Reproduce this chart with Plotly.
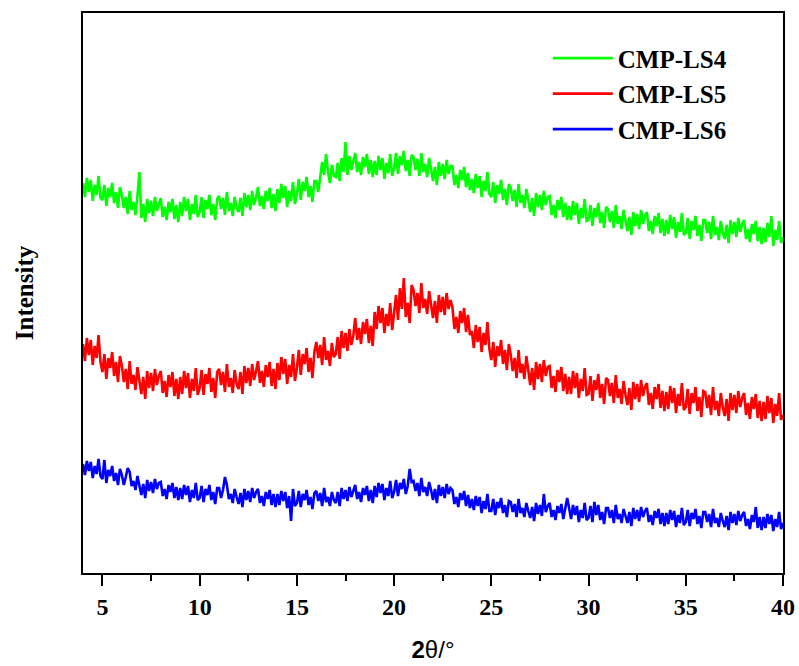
import plotly.graph_objects as go

# 2θ sampling grid (degrees), step 0.1
two_theta = [round(4 + 0.1 * i, 1) for i in range(361)]

# Intensities (arbitrary units, curves stacked as plotted)
cmp_ls4 = [
    390, 376, 395, 381, 393, 372, 388, 378, 397, 375,
    373, 388, 367, 385, 376, 390, 370, 381, 365, 386,
    378, 365, 376, 359, 382, 363, 371, 358, 377, 401,
    355, 369, 351, 374, 360, 372, 357, 376, 362, 370,
    375, 356, 366, 353, 371, 361, 374, 354, 368, 351,
    371, 357, 376, 362, 374, 353, 369, 359, 378, 356,
    361, 376, 355, 373, 364, 378, 358, 369, 353, 374,
    377, 364, 375, 358, 381, 362, 370, 357, 376, 365,
    361, 375, 357, 380, 366, 378, 363, 382, 368, 376,
    386, 367, 377, 364, 382, 372, 385, 365, 379, 362,
    384, 370, 389, 375, 387, 366, 382, 372, 391, 369,
    379, 394, 373, 391, 382, 396, 376, 387, 371, 392,
    392, 381, 395, 411, 398, 419, 401, 390, 408, 397,
    396, 410, 392, 415, 401, 431, 398, 417, 403, 411,
    420, 401, 411, 398, 416, 406, 419, 399, 413, 396,
    412, 398, 417, 403, 415, 394, 410, 400, 419, 397,
    405, 420, 399, 417, 408, 422, 402, 413, 397, 418,
    416, 403, 414, 397, 420, 401, 409, 396, 415, 404,
    392, 406, 388, 411, 397, 409, 394, 413, 399, 407,
    407, 388, 398, 385, 403, 393, 406, 386, 400, 383,
    394, 380, 399, 385, 397, 376, 392, 382, 401, 379,
    376, 391, 370, 388, 379, 393, 373, 384, 368, 389,
    385, 372, 383, 366, 389, 370, 378, 365, 384, 373,
    361, 375, 357, 380, 366, 378, 363, 382, 368, 376,
    377, 358, 368, 355, 373, 363, 376, 356, 370, 353,
    367, 353, 372, 358, 370, 349, 365, 355, 374, 352,
    353, 368, 347, 365, 356, 370, 350, 361, 345, 366,
    364, 351, 362, 345, 368, 349, 357, 344, 363, 352,
    342, 356, 338, 361, 347, 359, 344, 363, 349, 357,
    361, 342, 352, 339, 357, 347, 360, 340, 354, 337,
    353, 339, 358, 344, 356, 335, 351, 341, 360, 338,
    340, 355, 334, 352, 343, 357, 337, 348, 332, 353,
    353, 340, 351, 334, 357, 338, 346, 333, 352, 341,
    334, 348, 330, 353, 339, 351, 336, 355, 341, 349,
    353, 334, 344, 331, 349, 339, 352, 332, 346, 329,
    345, 331, 350, 336, 357, 327, 343, 333, 352, 330,
    336,
]

cmp_ls5 = [
    229, 212, 235, 218, 233, 208, 227, 215, 238, 211,
    201, 219, 194, 215, 205, 221, 197, 211, 191, 217,
    207, 191, 204, 184, 212, 189, 198, 183, 206, 192,
    179, 196, 174, 202, 185, 200, 182, 204, 188, 197,
    202, 180, 192, 176, 198, 186, 201, 177, 194, 174,
    196, 179, 202, 185, 200, 175, 194, 182, 205, 178,
    185, 203, 178, 199, 189, 205, 181, 195, 175, 201,
    204, 188, 201, 181, 209, 186, 195, 180, 203, 189,
    184, 201, 179, 207, 190, 205, 187, 209, 193, 202,
    212, 190, 202, 186, 208, 196, 211, 187, 204, 184,
    210, 193, 216, 199, 214, 189, 208, 196, 219, 192,
    205, 223, 198, 219, 209, 225, 201, 215, 195, 221,
    231, 215, 228, 208, 236, 213, 222, 207, 230, 216,
    219, 236, 214, 242, 225, 240, 222, 244, 228, 237,
    255, 233, 245, 229, 251, 239, 254, 230, 247, 227,
    261, 244, 267, 250, 265, 240, 259, 247, 270, 243,
    260, 278, 253, 285, 264, 295, 256, 270, 250, 288,
    283, 267, 280, 260, 290, 265, 274, 259, 282, 268,
    255, 272, 250, 278, 261, 276, 258, 280, 264, 273,
    266, 244, 256, 240, 262, 250, 265, 241, 258, 238,
    242, 225, 248, 231, 246, 221, 240, 228, 251, 224,
    213, 231, 206, 227, 217, 233, 209, 223, 203, 229,
    218, 202, 215, 195, 223, 200, 209, 194, 217, 203,
    188, 205, 183, 211, 194, 209, 191, 213, 197, 206,
    207, 185, 197, 181, 203, 191, 206, 182, 199, 179,
    196, 179, 202, 185, 200, 175, 194, 182, 205, 178,
    179, 197, 172, 193, 183, 199, 175, 189, 169, 195,
    193, 177, 190, 170, 198, 175, 184, 169, 192, 178,
    168, 185, 163, 191, 174, 189, 171, 193, 177, 186,
    190, 168, 180, 164, 186, 174, 189, 165, 182, 162,
    181, 164, 187, 170, 185, 160, 179, 167, 190, 163,
    166, 184, 159, 180, 170, 186, 162, 176, 156, 182,
    181, 165, 178, 158, 186, 163, 172, 157, 180, 166,
    157, 174, 152, 180, 163, 178, 160, 182, 166, 175,
    180, 158, 170, 154, 176, 164, 179, 155, 172, 152,
    171, 154, 177, 160, 175, 150, 169, 157, 180, 153,
    158,
]

cmp_ls6 = [
    109, 98, 112, 102, 111, 95, 107, 99, 114, 97,
    94, 113, 90, 103, 97, 107, 92, 100, 88, 104,
    98, 88, 96, 105, 101, 87, 92, 83, 97, 89,
    78, 89, 75, 93, 82, 91, 80, 94, 84, 90,
    91, 77, 84, 74, 88, 81, 90, 75, 86, 73,
    85, 74, 88, 78, 87, 71, 83, 75, 90, 73,
    75, 87, 71, 84, 78, 88, 73, 81, 69, 85,
    85, 75, 83, 96, 88, 74, 79, 70, 84, 76,
    69, 80, 66, 84, 73, 82, 71, 85, 75, 81,
    84, 70, 77, 67, 81, 74, 83, 68, 79, 66,
    79, 68, 82, 72, 81, 65, 77, 52, 84, 67,
    70, 82, 66, 79, 73, 83, 68, 76, 64, 80,
    82, 72, 80, 67, 85, 71, 76, 67, 81, 73,
    70, 81, 67, 85, 74, 83, 72, 86, 76, 82,
    88, 74, 81, 71, 85, 78, 87, 72, 83, 70,
    87, 76, 90, 80, 89, 73, 85, 77, 92, 75,
    81, 93, 77, 90, 84, 94, 79, 87, 104, 91,
    92, 82, 90, 77, 95, 81, 86, 77, 91, 83,
    73, 84, 70, 88, 77, 86, 75, 89, 79, 85,
    83, 69, 76, 66, 80, 73, 82, 67, 78, 65,
    74, 63, 77, 67, 76, 60, 72, 64, 79, 62,
    62, 74, 58, 71, 65, 75, 60, 68, 56, 72,
    71, 61, 69, 56, 74, 60, 65, 56, 70, 62,
    55, 66, 52, 70, 59, 68, 57, 79, 61, 67,
    70, 56, 63, 53, 67, 60, 69, 54, 65, 75,
    65, 54, 68, 58, 67, 51, 63, 55, 70, 53,
    55, 67, 51, 71, 58, 68, 53, 61, 49, 65,
    65, 55, 63, 50, 68, 54, 59, 50, 64, 56,
    50, 61, 47, 65, 54, 63, 52, 66, 56, 62,
    65, 51, 58, 48, 62, 55, 64, 49, 60, 47,
    60, 49, 63, 53, 62, 46, 58, 50, 65, 48,
    51, 63, 47, 60, 54, 64, 49, 57, 45, 61,
    61, 51, 59, 46, 64, 50, 55, 46, 60, 52,
    46, 57, 43, 61, 50, 59, 48, 62, 52, 58,
    61, 47, 54, 44, 58, 51, 66, 45, 56, 43,
    56, 45, 59, 49, 58, 42, 54, 46, 61, 44,
    50,
]

series_names = ["CMP-LS4", "CMP-LS5", "CMP-LS6"]
series_values = [cmp_ls4, cmp_ls5, cmp_ls6]
series_colors = ["#00FF00", "#FF0000", "#0000FF"]

x_ticks = [5, 10, 15, 20, 25, 30, 35, 40]
x_minor_ticks = [7.5, 12.5, 17.5, 22.5, 27.5, 32.5, 37.5]

fig = go.Figure()
for name, vals, col in zip(series_names, series_values, series_colors):
    fig.add_trace(go.Scatter(x=two_theta, y=vals, mode="lines", name=name,
                             line=dict(color=col, width=2.6)))

serif = "Liberation Serif"
fig.update_layout(
    width=799, height=666,
    margin=dict(l=83, r=16, t=13, b=93),
    paper_bgcolor="white", plot_bgcolor="white",
    showlegend=True,
    legend=dict(x=0.664, y=0.96, xanchor="left", yanchor="top",
                bgcolor="rgba(0,0,0,0)", itemwidth=60,
                font=dict(family=serif, size=25, color="black", weight="bold"),
                tracegroupgap=0),
    xaxis=dict(range=[4, 40], tickvals=x_ticks, ticks="outside", ticklen=11,
               tickwidth=2, tickcolor="black", showline=True, linewidth=2,
               linecolor="black", mirror=True, showgrid=False, zeroline=False,
               automargin=False,
               tickfont=dict(family=serif, size=24, color="black", weight="bold"),
               minor=dict(tickvals=x_minor_ticks, ticks="outside", ticklen=6,
                          tickwidth=2, tickcolor="black"),
               title=dict(text="<b>2</b>θ/°", standoff=22,
                          font=dict(family="Liberation Sans", size=24, color="black"))),
    yaxis=dict(range=[0, 560], showticklabels=False, ticks="", showline=True,
               linewidth=2, linecolor="black", mirror=True, showgrid=False,
               zeroline=False, automargin=False,
               title=dict(text="Intensity", standoff=40,
                          font=dict(family=serif, size=25, color="black", weight="bold"))),
)

fig.write_html("out.html")
